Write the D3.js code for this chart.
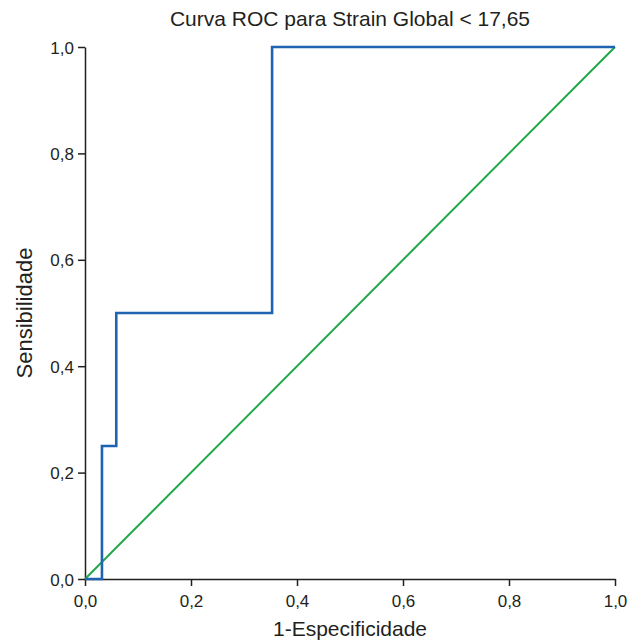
<!DOCTYPE html>
<html>
<head>
<meta charset="utf-8">
<script src="https://cdn.jsdelivr.net/npm/d3@7"></script>
<style>
  body { margin: 0; background: #fff; }
  text { font-family: "Liberation Sans", Arial, sans-serif; fill: #231f20; }
</style>
</head>
<body>
<div class="rocChart"></div>
<script>
// ROC curve points (1-specificity, sensitivity)
var rocX = [0, 0.032, 0.032, 0.059, 0.059, 0.353, 0.353, 1];
var rocY = [0, 0, 0.25, 0.25, 0.5, 0.5, 1, 1];
var refLine = [0, 1];
var tickValues = [0, 0.2, 0.4, 0.6, 0.8, 1];

var margin = {top: 47, right: 26, bottom: 64, left: 85},
    width = 641 - margin.left - margin.right,
    height = 643 - margin.top - margin.bottom;

var svg = d3.select(".rocChart")
  .append("svg")
    .attr("width", 641)
    .attr("height", 643)
  .append("g")
    .attr("transform", "translate(" + margin.left + "," + margin.top + ")");

var x = d3.scaleLinear().domain([0, 1]).range([0, width]);
var y = d3.scaleLinear().domain([0, 1]).range([height, 0]);

var fmt = function (d) { return d.toFixed(1).replace(".", ","); };

var xAxis = svg.append("g")
  .attr("transform", "translate(0," + height + ")")
  .call(d3.axisBottom(x).tickValues(tickValues).tickFormat(fmt).tickSize(7).tickSizeOuter(0));

var yAxis = svg.append("g")
  .call(d3.axisLeft(y).tickValues(tickValues).tickFormat(fmt).tickSize(7).tickSizeOuter(0));

[xAxis, yAxis].forEach(function (a) {
  a.select(".domain").attr("stroke", "#231f20").attr("stroke-width", 1.5);
  a.selectAll(".tick line").attr("stroke", "#231f20").attr("stroke-width", 1.5);
  a.selectAll(".tick text")
    .attr("font-size", "17px")
    .attr("font-family", "Liberation Sans, Arial, sans-serif")
    .attr("fill", "#231f20");
});
xAxis.selectAll(".tick text").attr("dy", "1.05em");
yAxis.selectAll(".tick text").attr("dy", "0.36em").attr("x", -11);

// reference diagonal
svg.append("line")
  .attr("x1", x(refLine[0])).attr("y1", y(refLine[0]))
  .attr("x2", x(refLine[1])).attr("y2", y(refLine[1]))
  .attr("stroke", "#1fa84a")
  .attr("stroke-width", 2);

// ROC step curve
var line = d3.line()
  .x(function (d) { return x(d[0]); })
  .y(function (d) { return y(d[1]); });

svg.append("path")
  .datum(d3.zip(rocX, rocY))
  .attr("d", line)
  .attr("fill", "none")
  .attr("stroke", "#1f64b1")
  .attr("stroke-width", 2.6);

svg.append("text")
  .attr("x", width / 2)
  .attr("y", -21)
  .attr("text-anchor", "middle")
  .attr("font-size", "21px")
  .text("Curva ROC para Strain Global < 17,65");

svg.append("text")
  .attr("x", width / 2)
  .attr("y", height + 57)
  .attr("text-anchor", "middle")
  .attr("font-size", "21px")
  .text("1-Especificidade");

svg.append("text")
  .attr("transform", "rotate(-90)")
  .attr("x", -height / 2)
  .attr("y", -53)
  .attr("text-anchor", "middle")
  .attr("font-size", "22px")
  .text("Sensibilidade");
</script>
</body>
</html>
